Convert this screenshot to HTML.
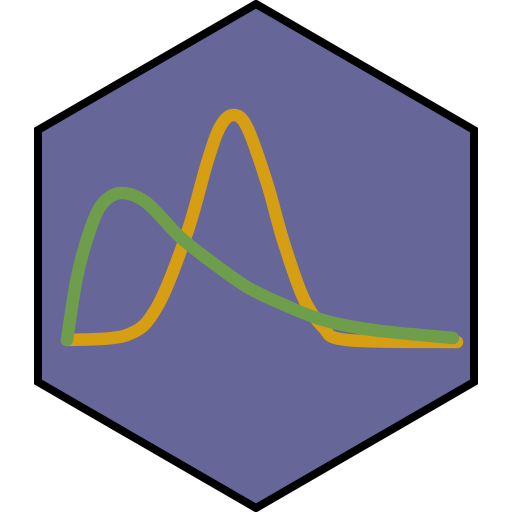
<!DOCTYPE html>
<html><head><meta charset="utf-8"><style>html,body{margin:0;padding:0;background:#fff}svg{display:block}</style></head>
<body>
<svg id="chart" width="512" height="512" viewBox="0 0 512 512" xmlns="http://www.w3.org/2000/svg">
<polygon points="256,4 474,130 474,382 256,508 38,382 38,130" fill="#666698" stroke="#000" stroke-width="8" stroke-linejoin="miter"/>
<g id="series"></g>
</svg>
<script>
const orangeX = [0, 60, 90, 120, 140, 153, 166, 180, 200, 216, 236, 256, 280, 390];
const orangeY = [2, 7, 35, 109, 179, 215, 227, 215, 159, 102, 45, 15, 2, 0];
const greenX = [0, 10, 23, 36, 55, 80, 113, 146, 180, 213, 256, 306, 386];
const greenY = [2, 65, 112, 139, 149, 139, 105, 79, 55, 39, 22, 12, 4];
const x0 = 67, x1 = 457, y0 = 342, y1 = 112;
function sx(v){ return x0 + v * (x1 - x0) / 390; }
function sy(v){ return y0 - v * (y0 - y1) / 230; }
function pathFor(xs, ys){
  const p = xs.map((x,i)=>[sx(x), sy(ys[i])]);
  let d = 'M' + p[0][0] + ',' + p[0][1];
  for (let i = 0; i < p.length - 1; i++) {
    const a = p[Math.max(0,i-1)], b = p[i], c = p[i+1], e = p[Math.min(p.length-1,i+2)];
    const c1 = [b[0] + (c[0]-a[0])/6, b[1] + (c[1]-a[1])/6];
    const c2 = [c[0] - (e[0]-b[0])/6, c[1] - (e[1]-b[1])/6];
    d += ' C' + c1[0] + ',' + c1[1] + ' ' + c2[0] + ',' + c2[1] + ' ' + c[0] + ',' + c[1];
  }
  return d;
}
const g = document.getElementById('series');
const ns = 'http://www.w3.org/2000/svg';
const o = document.createElementNS(ns, 'path');


o.setAttribute('d', pathFor(orangeX, orangeY));
o.setAttribute('fill', 'none'); o.setAttribute('stroke', '#d69e12');
o.setAttribute('stroke-width', '12.5'); o.setAttribute('stroke-linecap', 'round'); o.setAttribute('stroke-linejoin', 'round');
g.appendChild(o);
const gr = document.createElementNS(ns, 'path');


gr.setAttribute('d', pathFor(greenX, greenY));
gr.setAttribute('fill', 'none'); gr.setAttribute('stroke', '#6e9e4c');
gr.setAttribute('stroke-width', '12.5'); gr.setAttribute('stroke-linecap', 'round'); gr.setAttribute('stroke-linejoin', 'round');
g.appendChild(gr);
</script>
</body></html>
